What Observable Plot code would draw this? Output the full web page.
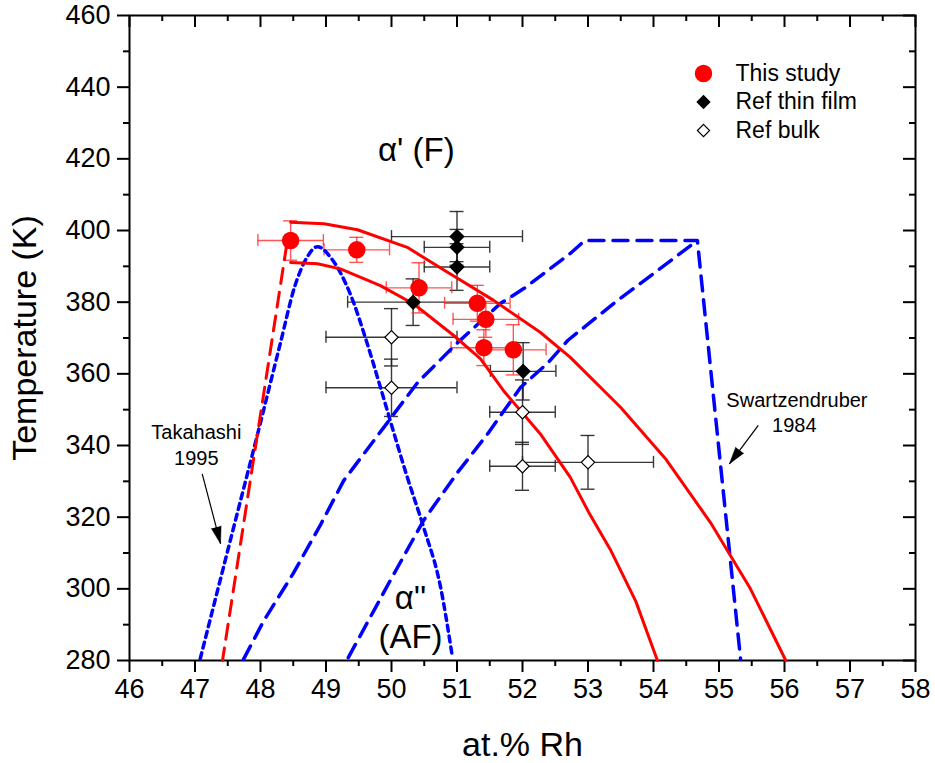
<!DOCTYPE html>
<html><head><meta charset="utf-8">
<script src="https://cdn.jsdelivr.net/npm/d3@7"></script>
<script src="https://cdn.jsdelivr.net/npm/@observablehq/plot@0.6"></script>
<style>
body{margin:0;background:#fff;}
#chart{position:relative;width:935px;height:763px;}
</style>
</head><body><div id="chart"></div>
<script>
// ---- Data: This study (red circles) ----
const studyRh    = [48.46, 49.47, 50.42, 51.31, 51.44, 51.41, 51.86];
const studyT     = [397.2, 394.6, 384.0, 379.7, 375.2, 367.3, 366.7];
const studyRhErr = [0.5, 0.5, 0.5, 0.5, 0.5, 0.5, 0.5];
const studyTErr  = [5.5, 3.5, 7, 5, 5, 5, 7];

// ---- Ref thin film (filled diamonds) ----
const filmRh    = [51.0, 51.0, 51.0, 50.33, 52.01];
const filmT     = [398.3, 395.3, 389.8, 380.0, 360.7];
const filmRhErr = [1.0, 0.5, 0.5, 1.0, 0.5];
const filmTErr  = [7, 5, 6.5, 6.5, 8];

// ---- Ref bulk (open diamonds) ----
const bulkRh    = [50.0, 50.0, 52.0, 52.0, 53.0];
const bulkT     = [370.2, 356.1, 349.3, 334.2, 335.3];
const bulkRhErr = [1.0, 1.0, 0.5, 0.5, 1.0];
const bulkTErr  = [8, 8, 9, 6.7, 7.5];

// ---- Red solid boundaries (this study) ----
const upperRh = [48.46, 48.97, 49.48, 50.24, 50.85, 51.56, 52.27, 52.73, 53.50, 54.18, 54.87, 55.48, 56.02];
const upperT  = [402.3, 401.9, 400.2, 395.3, 388.4, 380.5, 371.6, 364.6, 350.6, 336.4, 318.5, 300.0, 280.0];
const lowerRh = [48.46, 48.87, 49.22, 49.83, 50.34, 50.95, 51.36, 51.71, 52.27, 52.73, 53.01, 53.34, 53.73, 54.06];
const lowerT  = [391.1, 390.7, 389.3, 384.6, 379.5, 370.7, 364.2, 355.3, 343.3, 331.1, 321.4, 311.0, 296.5, 280.0];

// ---- Red dashed boundary ----
const redDashRh = [48.40, 47.42];
const redDashT  = [396.0, 280.0];

// ---- Takahashi 1995 (blue dotted) ----
const takaRh = [47.08, 47.50, 48.00, 48.30, 48.53, 48.71, 48.87, 49.07, 49.37, 49.63, 49.83, 49.98, 50.24, 50.49, 50.75, 50.93];
const takaT  = [280.5, 310.7, 346.4, 368.3, 384.8, 392.5, 395.5, 392.5, 382.3, 368.4, 356.3, 347.0, 331.2, 317.2, 300.4, 280.9];

// ---- Swartzendruber 1984 (blue dashed) ----
const swaRh = [47.74, 48.05, 48.50, 48.92, 49.27, 49.88, 50.40, 51.01, 51.66, 52.02, 52.73, 52.95, 54.67, 55.33];
const swaT  = [280.3, 291.1, 304.3, 318.0, 330.2, 345.0, 357.6, 368.7, 379.6, 383.8, 393.6, 397.2, 397.2, 280.3];
const swbRh = [49.34, 49.98, 50.49, 51.01, 51.47, 51.97, 52.38, 52.69, 53.39, 54.67];
const swbT  = [280.8, 302.3, 319.1, 332.5, 343.3, 356.2, 362.9, 369.3, 379.6, 397.2];

// ---- Annotations ----
const phaseLabels = ["α' (F)", "α''", "(AF)"];
const phaseRh     = [50.38, 50.29, 50.29];
const phaseT      = [422.3, 297.3, 286.4];
const refLabels   = ["Takahashi", "1995", "Swartzendruber", "1984"];
const refRh       = [47.02, 47.02, 56.19, 56.15];
const refT        = [343.7, 336.3, 352.5, 345.6];
const arrowFrom   = [[47.11, 332.1], [55.60, 345.6]];
const arrowTo     = [[47.39, 312.6], [55.16, 334.9]];

// ---- Legend / ticks ----
const legendLabels = ["This study", "Ref thin film", "Ref bulk"];
const xMajor = d3.range(46, 58.01, 1);
const xMinor = d3.range(46.5, 58, 1);
const yMajor = d3.range(280, 460.1, 20);
const yMinor = d3.range(290, 460, 20);

// ---- Layout ----
const W = 935, H = 763, mL = 129, mR = 20, mT = 15, mB = 103;
const plotW = W - mL - mR, plotH = H - mT - mB;
const kx = plotW / 12, ky = plotH / 180; // px per unit
const capX = 7 / kx, capY = 6 / ky;      // half-length of error caps in data units

const rows = (rh, t, erx, ert) => rh.map((x, i) => ({x, y: t[i], ex: erx[i], ey: ert[i]}));
const study = rows(studyRh, studyT, studyRhErr, studyTErr);
const film = rows(filmRh, filmT, filmRhErr, filmTErr);
const bulk = rows(bulkRh, bulkT, bulkRhErr, bulkTErr);
const pts = (a, b) => a.map((x, i) => ({x, y: b[i]}));

function errorBars(data, stroke, opacity) {
  const o = {stroke, strokeWidth: 1.4, strokeOpacity: opacity};
  return [
    Plot.ruleY(data, {y: "y", x1: d => d.x - d.ex, x2: d => d.x + d.ex, ...o}),
    Plot.ruleX(data, {x: "x", y1: d => d.y - d.ey, y2: d => d.y + d.ey, ...o}),
    Plot.ruleX(data, {x: d => d.x - d.ex, y1: d => d.y - capY, y2: d => d.y + capY, ...o}),
    Plot.ruleX(data, {x: d => d.x + d.ex, y1: d => d.y - capY, y2: d => d.y + capY, ...o}),
    Plot.ruleY(data, {y: d => d.y - d.ey, x1: d => d.x - capX, x2: d => d.x + capX, ...o}),
    Plot.ruleY(data, {y: d => d.y + d.ey, x1: d => d.x - capX, x2: d => d.x + capX, ...o})
  ];
}

const arrows = arrowFrom.map((f, i) => {
  const t = arrowTo[i];
  const dx = (t[0] - f[0]) * kx, dy = -(t[1] - f[1]) * ky;
  const rot = Math.atan2(dx, -dy) * 180 / Math.PI;
  return {x1: f[0], y1: f[1], x2: t[0], y2: t[1], rot};
});

const font = "'Liberation Sans', Arial, Helvetica, sans-serif";
const lx = 703 - mL, ly0 = 73 - mT, lstep = 28.5, ltx = 735 - mL;

const chart = Plot.plot({
  width: W, height: H,
  marginLeft: mL, marginRight: mR, marginTop: mT, marginBottom: mB,
  style: {fontFamily: font, background: "#fff", color: "#000"},
  x: {domain: [46, 58]},
  y: {domain: [280, 460]},
  marks: [
    // axes
    Plot.axisX({ticks: xMajor, tickSize: 12, tickPadding: 6, fontSize: 27, strokeWidth: 2, label: null, tickFormat: d3.format("d")}),
    Plot.axisX({ticks: xMinor, tickSize: 6, strokeWidth: 2, label: null, tickFormat: () => ""}),
    Plot.axisY({ticks: yMajor, tickSize: 12, tickPadding: 7, fontSize: 27, strokeWidth: 2, label: null, tickFormat: d3.format("d")}),
    Plot.axisY({ticks: yMinor, tickSize: 6, strokeWidth: 2, label: null, tickFormat: () => ""}),
    Plot.ruleX(xMajor, {x: d => d, insetBottom: plotH - 12, strokeWidth: 2}),
    Plot.ruleX(xMinor, {x: d => d, insetBottom: plotH - 6, strokeWidth: 2}),
    Plot.ruleY(yMajor, {y: d => d, insetLeft: plotW - 12, strokeWidth: 2}),
    Plot.ruleY(yMinor, {y: d => d, insetLeft: plotW - 6, strokeWidth: 2}),
    Plot.frame({strokeWidth: 2}),
    Plot.text(["at.% Rh"], {frameAnchor: "bottom", dy: 85, fontSize: 34, lineAnchor: "middle", textAnchor: "middle"}),
    Plot.text(["Temperature (K)"], {frameAnchor: "left", dx: -104, dy: 0, rotate: -90, fontSize: 34, lineAnchor: "middle", textAnchor: "middle"}),

    // error bars
    ...errorBars(bulk, "#222", 0.9),
    ...errorBars(film, "#222", 0.9),
    ...errorBars(study, "#ff2a2a", 0.8),

    // boundaries
    Plot.line(pts(takaRh, takaT), {x: "x", y: "y", curve: "monotone-x", stroke: "#0000ff", strokeWidth: 3.5, strokeDasharray: "6,5"}),
    Plot.line(pts(swaRh, swaT), {x: "x", y: "y", stroke: "#0000ff", strokeWidth: 3.5, strokeDasharray: "15,9"}),
    Plot.line(pts(swbRh, swbT), {x: "x", y: "y", stroke: "#0000ff", strokeWidth: 3.5, strokeDasharray: "15,9"}),
    Plot.line(pts(redDashRh, redDashT), {x: "x", y: "y", stroke: "#ff0000", strokeWidth: 3, strokeDasharray: "15,9"}),
    Plot.line(pts(upperRh, upperT), {x: "x", y: "y", stroke: "#ff0000", strokeWidth: 3}),
    Plot.line(pts(lowerRh, lowerT), {x: "x", y: "y", stroke: "#ff0000", strokeWidth: 3}),

    // symbols
    Plot.dot(bulk, {x: "x", y: "y", symbol: "diamond2", r: 6, fill: "#fff", stroke: "#000", strokeWidth: 1.2}),
    Plot.dot(film, {x: "x", y: "y", symbol: "diamond2", r: 6, fill: "#000", stroke: "#000"}),
    Plot.dot(study, {x: "x", y: "y", r: 8, fill: "#ff0000", stroke: "#ff0000"}),

    // annotations
    Plot.text(phaseLabels, {x: (d, i) => phaseRh[i], y: (d, i) => phaseT[i], text: d => d, fontSize: 33}),
    Plot.text(refLabels, {x: (d, i) => refRh[i], y: (d, i) => refT[i], text: d => d, fontSize: 20}),
    Plot.link(arrows, {x1: "x1", y1: "y1", x2: "x2", y2: "y2", stroke: "#000", strokeWidth: 1.2}),
    Plot.vector(arrows, {x: "x2", y: "y2", rotate: "rot", length: 17, r: 5, anchor: "end", shape: "spike", fill: "#000", stroke: "#000", strokeWidth: 0.5}),

    // legend
    Plot.dot([legendLabels[0]], {frameAnchor: "top-left", dx: lx, dy: ly0, r: 8, fill: "#ff0000", stroke: "#ff0000"}),
    Plot.dot([legendLabels[1]], {frameAnchor: "top-left", dx: lx, dy: ly0 + lstep, r: 5.5, symbol: "diamond2", fill: "#000", stroke: "#000"}),
    Plot.dot([legendLabels[2]], {frameAnchor: "top-left", dx: lx, dy: ly0 + 2 * lstep, r: 5.5, symbol: "diamond2", fill: "#fff", stroke: "#000", strokeWidth: 1.2}),
    Plot.text([legendLabels[0]], {frameAnchor: "top-left", dx: ltx, dy: ly0, text: d => d, textAnchor: "start", lineAnchor: "middle", fontSize: 23}),
    Plot.text([legendLabels[1]], {frameAnchor: "top-left", dx: ltx, dy: ly0 + lstep, text: d => d, textAnchor: "start", lineAnchor: "middle", fontSize: 23}),
    Plot.text([legendLabels[2]], {frameAnchor: "top-left", dx: ltx, dy: ly0 + 2 * lstep, text: d => d, textAnchor: "start", lineAnchor: "middle", fontSize: 23})
  ]
});
document.getElementById("chart").appendChild(chart);
</script>
</body></html>
